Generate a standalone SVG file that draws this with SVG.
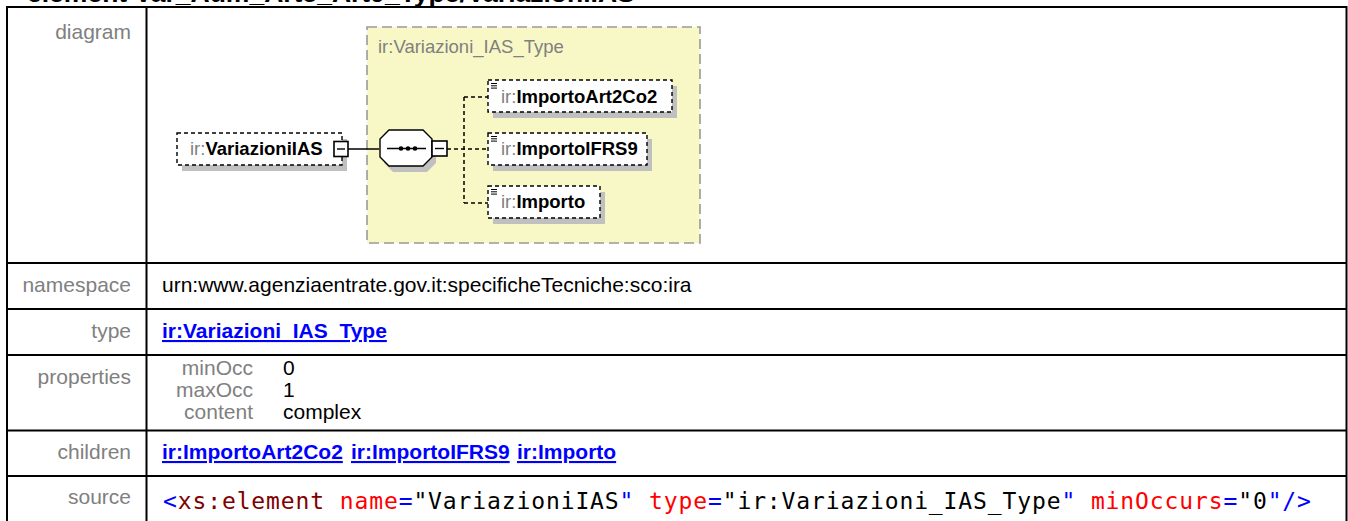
<svg xmlns="http://www.w3.org/2000/svg" width="1348" height="521" viewBox="0 0 1348 521">
<style>
.lbl{font-family:"Liberation Sans",Arial,sans-serif;font-size:21px;fill:#808080;text-anchor:end}
.val{font-family:"Liberation Sans",Arial,sans-serif;font-size:21px;fill:#000}
.lnk{font-family:"Liberation Sans",Arial,sans-serif;font-size:21px;font-weight:bold;fill:#0000FF;text-decoration:underline}
.grid{stroke:#000;stroke-width:2;fill:none}
.dtxt{font-family:"Liberation Sans",Arial,sans-serif;font-size:18.5px}
.pre{fill:#808080}
.nm{font-weight:bold;fill:#000}
.box{fill:#fff;stroke:#000;stroke-width:1.4;stroke-dasharray:4 3}
.shadow{fill:#C0C0C0}
.btn{fill:#fff;stroke:#000;stroke-width:1.6}
.src{font-family:"DejaVu Sans Mono",monospace;font-size:23px;letter-spacing:0.88px}
.b{fill:#0000FF}.m{fill:#800000}.r{fill:#FF0000}.k{fill:#000}
</style>
<text x="27" y="2" font-family="Liberation Sans,Arial,sans-serif" font-size="26.5" font-weight="bold" fill="#000">element Var_Aum_Art5_Art9_Type/VariazioniIAS</text>
<g id="table">
<rect class="grid" x="7" y="7" width="1339.5" height="530"/>
<line class="grid" x1="146.5" y1="7" x2="146.5" y2="521"/>
<line class="grid" x1="7" y1="263" x2="1346.5" y2="263"/>
<line class="grid" x1="7" y1="309" x2="1346.5" y2="309"/>
<line class="grid" x1="7" y1="355" x2="1346.5" y2="355"/>
<line class="grid" x1="7" y1="430.5" x2="1346.5" y2="430.5"/>
<line class="grid" x1="7" y1="476" x2="1346.5" y2="476"/>
<text class="lbl" x="131" y="39">diagram</text>
<text class="lbl" x="131" y="292">namespace</text>
<text class="lbl" x="131" y="338">type</text>
<text class="lbl" x="131" y="384">properties</text>
<text class="lbl" x="131" y="459">children</text>
<text class="lbl" x="131" y="504">source</text>
<text class="val" x="162" y="292">urn:www.agenziaentrate.gov.it:specificheTecniche:sco:ira</text>
<text class="lnk" x="162" y="338">ir:Variazioni_IAS_Type</text>
<text class="lbl" x="253" y="375">minOcc</text>
<text class="lbl" x="253" y="397">maxOcc</text>
<text class="lbl" x="253" y="419">content</text>
<text class="val" x="283" y="375">0</text>
<text class="val" x="283" y="397">1</text>
<text class="val" x="283" y="419">complex</text>
<text class="lnk" x="162" y="459">ir:ImportoArt2Co2</text>
<text class="lnk" x="351" y="459">ir:ImportoIFRS9</text>
<text class="lnk" x="517" y="459">ir:Importo</text>
<text class="src" x="163" y="509" xml:space="preserve"><tspan class="b">&lt;</tspan><tspan class="m">xs:element</tspan><tspan class="r"> name</tspan><tspan class="b">=</tspan><tspan class="k">"VariazioniIAS</tspan><tspan class="b">"</tspan><tspan class="r"> type</tspan><tspan class="b">=</tspan><tspan class="k">"ir:Variazioni_IAS_Type</tspan><tspan class="b">"</tspan><tspan class="r"> minOccurs</tspan><tspan class="b">=</tspan><tspan class="k">"0</tspan><tspan class="b">"/&gt;</tspan></text>
</g>
<g id="type-Variazioni_IAS_Type">
<rect x="367" y="27" width="333" height="216" fill="#F8F8C6" stroke="#999" stroke-width="1.6" stroke-dasharray="10 5"/>
<text class="dtxt pre" x="378" y="53">ir:Variazioni_IAS_Type</text>
</g>
<g id="connectors" fill="none" stroke="#000">
<line x1="348" y1="149" x2="379" y2="149" stroke-width="1.5"/>
<path d="M447 149H488M464 97V203M464 97H488M464 203H488" stroke-width="1.5" stroke-dasharray="4 3"/>
</g>
<g id="node-VariazioniIAS">
<rect class="shadow" x="182" y="139" width="165" height="32"/>
<rect class="box" x="177" y="133" width="165" height="32"/>
<text class="dtxt" x="190" y="155"><tspan class="pre">ir:</tspan><tspan class="nm">VariazioniIAS</tspan></text>
<rect class="btn" x="334" y="141.5" width="14" height="15"/>
<line x1="337" y1="149" x2="345" y2="149" stroke="#000" stroke-width="1.4"/>
</g>
<g id="node-sequence">
<polygon class="shadow" points="393,136 427,136 436,145 436,163 427,172 393,172 384,163 384,145"/>
<polygon points="389,130 423,130 432,139 432,157 423,166 389,166 380,157 380,139" fill="#fff" stroke="#000" stroke-width="1.4"/>
<line x1="387" y1="148.5" x2="426" y2="148.5" stroke="#000" stroke-width="1.4"/>
<circle cx="401" cy="148.5" r="2.3"/>
<circle cx="408" cy="148.5" r="2.3"/>
<circle cx="415" cy="148.5" r="2.3"/>
<rect class="btn" x="432" y="141" width="15" height="15"/>
<line x1="435" y1="148.5" x2="444" y2="148.5" stroke="#000" stroke-width="1.4"/>
</g>
<g id="node-ImportoArt2Co2">
<rect class="shadow" x="493" y="86" width="184" height="32"/>
<rect class="box" x="488" y="80" width="184" height="32"/>
<path d="M491 83.5H497M491 85.8H497M491 88.1H497" stroke="#000" stroke-width="1"/>
<text class="dtxt" x="501" y="103"><tspan class="pre">ir:</tspan><tspan class="nm">ImportoArt2Co2</tspan></text>
</g>
<g id="node-ImportoIFRS9">
<rect class="shadow" x="493" y="139" width="159" height="32"/>
<rect class="box" x="488" y="133" width="159" height="32"/>
<path d="M491 136.5H497M491 138.8H497M491 141.1H497" stroke="#000" stroke-width="1"/>
<text class="dtxt" x="501" y="155"><tspan class="pre">ir:</tspan><tspan class="nm">ImportoIFRS9</tspan></text>
</g>
<g id="node-Importo">
<rect class="shadow" x="493" y="192" width="112" height="32"/>
<rect class="box" x="488" y="186" width="112" height="32"/>
<path d="M491 189.5H497M491 191.8H497M491 194.1H497" stroke="#000" stroke-width="1"/>
<text class="dtxt" x="501" y="208"><tspan class="pre">ir:</tspan><tspan class="nm">Importo</tspan></text>
</g>
</svg>
